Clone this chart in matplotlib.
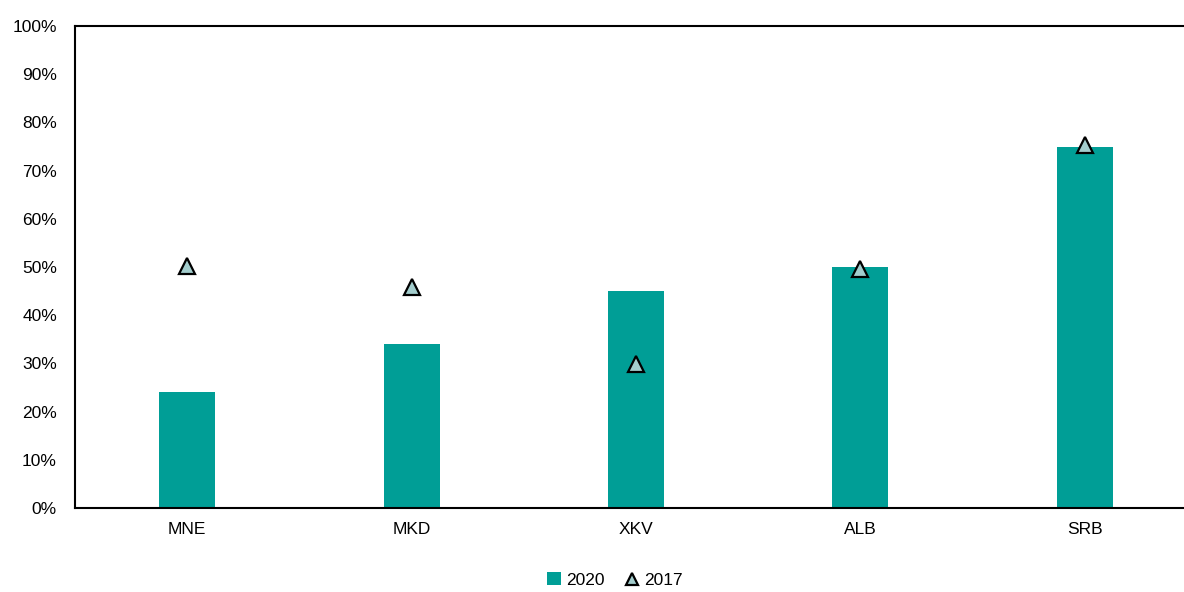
import matplotlib
matplotlib.use("Agg")
import matplotlib.pyplot as plt
from matplotlib.ticker import PercentFormatter

plt.rcParams["font.family"] = ["Liberation Sans", "DejaVu Sans"]

countries = ["MNE", "MKD", "XKV", "ALB", "SRB"]
share_2020 = [24, 34, 45, 50, 75]
share_2017 = [50.3, 45.8, 29.8, 49.6, 75.4]

BAR = "#009e96"
TRI = "#a3cdcd"

fig = plt.figure(figsize=(11.84, 5.92), dpi=100)
W, H = 1184, 592
ax = fig.add_axes([75 / W, 1 - 508 / H, 1122 / W, (508 - 26) / H])

x = range(len(countries))
bars = ax.bar(x, share_2020, width=0.25, color=BAR, label="2020", zorder=2)
tri, = ax.plot(x, share_2017, linestyle="none", marker="^", markersize=12,
               markerfacecolor=TRI, markeredgecolor="black", markeredgewidth=1.6,
               label="2017", zorder=3)

ax.set_xlim(-0.5, 4.5)
ax.set_ylim(0, 100)
ax.set_yticks(range(0, 101, 10))
ax.yaxis.set_major_formatter(PercentFormatter(decimals=0))
ax.set_xticks(list(x))
ax.set_xticklabels(countries)
ax.tick_params(axis="both", length=0, labelsize=12.5, colors="black")
ax.tick_params(axis="x", pad=10)
ax.tick_params(axis="y", pad=13)
ax.spines["right"].set_visible(False)
for s in ("left", "top", "bottom"):
    ax.spines[s].set_linewidth(1.5)
    ax.spines[s].set_color("black")

fig.legend([bars, tri], ["2020", "2017"], loc="center",
           bbox_to_anchor=(615 / W, 1 - 580 / H), ncol=2,
           frameon=False, fontsize=12.5, handlelength=0.8, handletextpad=0.3,
           columnspacing=1.2, markerscale=0.75)

fig.savefig("out.png", dpi=100)
